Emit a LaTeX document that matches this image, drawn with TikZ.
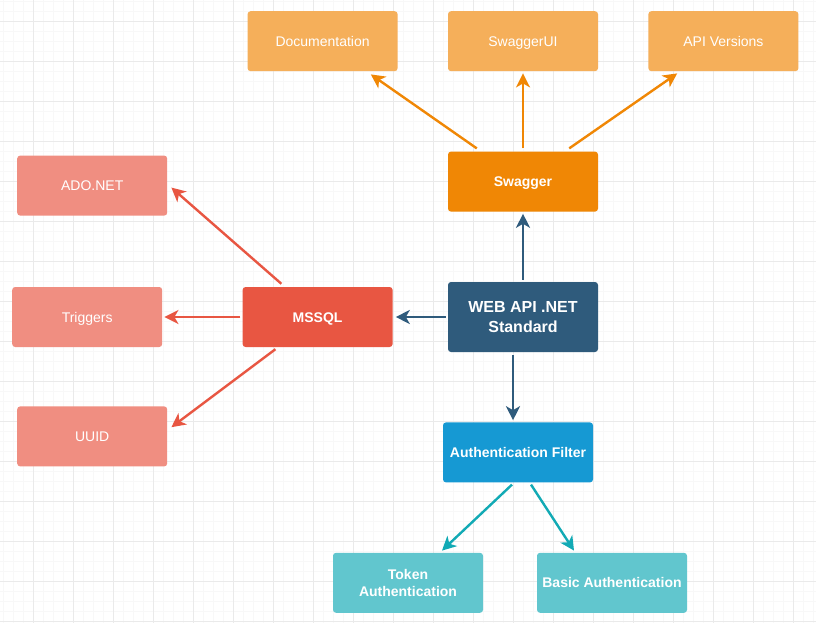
\documentclass[tikz,border=0pt]{standalone}
\usepackage{fontspec}
\setmainfont{Liberation Sans}
\usepackage{xcolor}
\usepackage{tikz}
\usetikzlibrary{positioning,arrows.meta}

\definecolor{gridmajor}{HTML}{EAEAEA}
\definecolor{gridminor}{HTML}{F8F8F8}
\definecolor{lightorange}{HTML}{F5AF5A}
\definecolor{darkorange}{HTML}{F08705}
\definecolor{lightred}{HTML}{F08E81}
\definecolor{darkred}{HTML}{E85642}
\definecolor{navy}{HTML}{2F5B7C}
\definecolor{filterblue}{HTML}{1699D3}
\definecolor{lightteal}{HTML}{61C6CE}
\definecolor{darkteal}{HTML}{12AAB5}

\begin{document}
\begin{tikzpicture}[x=1pt,y=-1pt,
  twoline/.style={rectangle,rounded corners=3pt,minimum width=150pt,minimum height=60pt,
    inner sep=0pt,text=white,align=center,font=\fontsize{14}{16.5}\selectfont\bfseries},
  lightbox/.style={twoline,text height=10pt,text depth=0pt,font=\fontsize{14}{16.5}\selectfont},
  darkbox/.style={lightbox,font=\fontsize{14}{16.5}\selectfont\bfseries},
  arr/.style={line width=2.4pt,-{Stealth[length=14pt,width=14pt,inset=4pt]}}]
% background grid
\useasboundingbox (0,0) rectangle (816,623);
\fill[white] (0,0) rectangle (816,623);
\foreach \x in {3,13,...,813} \draw[gridminor,line width=0.5pt] (\x,0) -- (\x,623);
\foreach \y in {1,11,...,621} \draw[gridminor,line width=0.5pt] (0,\y) -- (816,\y);
\foreach \x in {33,73,...,793} \draw[gridmajor,line width=0.9pt] (\x,0) -- (\x,623);
\foreach \y in {21,61,...,621} \draw[gridmajor,line width=0.9pt] (0,\y) -- (816,\y);

\node[twoline,fill=navy,minimum height=70pt,font=\fontsize{16}{20}\selectfont\bfseries] (web) at (523,317) {WEB API .NET\\Standard};
\node[darkbox,fill=darkorange,above=70pt of web] (swagger) {Swagger};
\node[lightbox,fill=lightorange,above=80pt of swagger] (swaggerui) {SwaggerUI};
\node[lightbox,fill=lightorange,left=50pt of swaggerui] (doc) {Documentation};
\node[lightbox,fill=lightorange,right=50pt of swaggerui] (versions) {API Versions};
\node[darkbox,fill=darkred,left=55pt of web] (mssql) {MSSQL};
\node[lightbox,fill=lightred,left=80pt of mssql] (triggers) {Triggers};
\node[lightbox,fill=lightred,above=71pt of triggers,xshift=5pt] (ado) {ADO.NET};
\node[lightbox,fill=lightred,below=59pt of triggers,xshift=5pt] (uuid) {UUID};
\node[darkbox,fill=filterblue,below=70pt of web,xshift=-5pt] (filter) {Authentication Filter};
\node[twoline,fill=lightteal,below=70pt of filter,xshift=-110pt] (token) {Token\\Authentication};
\node[darkbox,fill=lightteal,below=70pt of filter,xshift=94pt] (basic) {Basic Authentication};

% swagger
\draw[arr,darkorange] ([xshift=29pt,yshift=3pt]swagger.north west) -- ([xshift=-27pt,yshift=-3pt]doc.south east);
\draw[arr,darkorange] ([yshift=3pt]swagger.north) -- ([yshift=-2pt]swaggerui.south);
\draw[arr,darkorange] ([xshift=-29pt,yshift=3pt]swagger.north east) -- ([xshift=29pt,yshift=-2pt]versions.south west);
% api
\draw[arr,navy] ([yshift=2pt]web.north) -- ([yshift=-2pt]swagger.south);
\draw[arr,navy] ([xshift=-2pt]web.west) -- ([xshift=3pt]mssql.east);
\draw[arr,navy] ([xshift=-10pt,yshift=-3pt]web.south) -- ([xshift=-5pt,yshift=2pt]filter.north);
% database
\draw[arr,darkred] ([xshift=39pt,yshift=3pt]mssql.north west) -- ([xshift=4pt,yshift=-2pt]ado.east);
\draw[arr,darkred] ([xshift=-2pt]mssql.west) -- ([xshift=2pt]triggers.east);
\draw[arr,darkred] ([xshift=33pt,yshift=-2pt]mssql.south west) -- ([xshift=4pt,yshift=-21pt]uuid.north east);
% authentication
\draw[arr,darkteal] ([xshift=-6pt,yshift=-2pt]filter.south) -- ([xshift=34pt,yshift=2pt]token.north);
\draw[arr,darkteal] ([xshift=13pt,yshift=-2pt]filter.south) -- ([xshift=-38pt,yshift=2pt]basic.north);
\end{tikzpicture}
\end{document}
